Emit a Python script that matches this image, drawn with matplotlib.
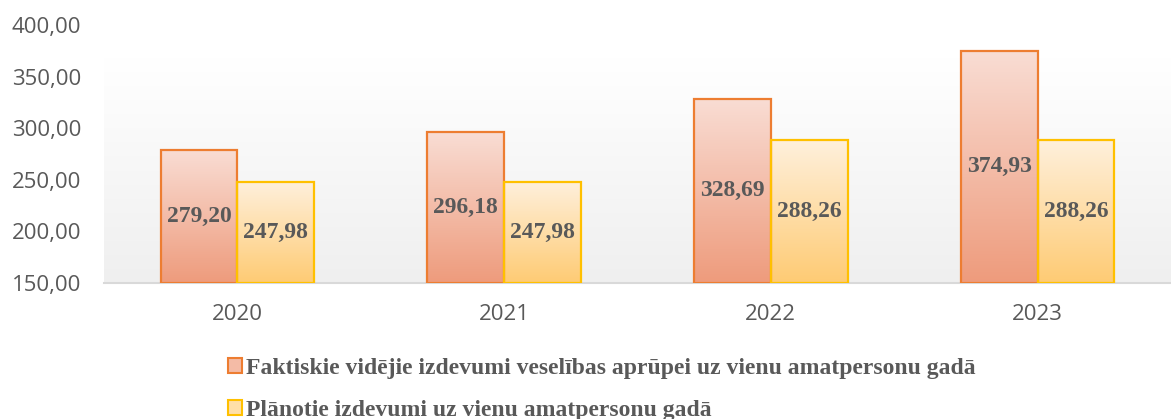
import numpy as np
import matplotlib
matplotlib.use('Agg')
from matplotlib import pyplot as plt
from matplotlib.patches import Patch
from matplotlib.colors import LinearSegmentedColormap

years = ['2020', '2021', '2022', '2023']
faktiskie = [279.20, 296.18, 328.69, 374.93]
planotie = [247.98, 247.98, 288.26, 288.26]
labels = ['Faktiskie vidējie izdevumi veselības aprūpei uz vienu amatpersonu gadā',
          'Plānotie izdevumi uz vienu amatpersonu gadā']

def fmt(v):
    return '{:.2f}'.format(v).replace('.', ',')

def gradBar(ax, x0, w, y0, y1, ctop, cbot, edge):
    cm = LinearSegmentedColormap.from_list('g', [cbot, ctop])
    grad = np.linspace(0, 1, 256).reshape(-1, 1)
    ax.imshow(grad, cmap=cm, origin='lower', aspect='auto',
              extent=(x0, x0 + w, y0, y1), zorder=2, interpolation='bicubic')
    ax.add_patch(plt.Rectangle((x0, y0), w, y1 - y0, fill=False,
                               edgecolor=edge, lw=1.6, zorder=3))

fig = plt.figure(figsize=(11.71, 4.19), dpi=100)
ax = fig.add_axes([104/1171, 136/419, 1 - 104/1171, 258/419])

# background gradient
bg = LinearSegmentedColormap.from_list('bg', ['#efefef', '#ffffff'])
ax.imshow(np.linspace(0, 1, 256).reshape(-1, 1), cmap=bg, origin='lower', aspect='auto',
          extent=(0, 1, 0, 0.87), transform=ax.transAxes, zorder=0)

x = np.arange(len(years))
w = 0.288
ymin = 150
for i in range(len(years)):
    gradBar(ax, x[i] - w, w, ymin, faktiskie[i], '#f9ddd4', '#ee9b7c', '#ed7d31')
    gradBar(ax, x[i], w, ymin, planotie[i], '#fff0dc', '#fecb74', '#ffc000')
    ax.text(x[i] - w/2, (ymin + faktiskie[i]) / 2, fmt(faktiskie[i]), ha='center', va='center',
            fontsize=17, fontweight='bold', family='Liberation Serif', color='#595959', zorder=4)
    ax.text(x[i] + w/2, (ymin + planotie[i]) / 2, fmt(planotie[i]), ha='center', va='center',
            fontsize=17, fontweight='bold', family='Liberation Serif', color='#595959', zorder=4)

ax.set_xlim(-0.5, len(years) - 0.5)
ax.set_ylim(150, 400)
ax.set_yticks(np.arange(150, 401, 50))
ax.set_yticklabels([fmt(v) for v in np.arange(150, 401, 50)])
ax.set_xticks(x)
ax.set_xticklabels(years)
for s in ['top', 'right', 'left']:
    ax.spines[s].set_visible(False)
ax.spines['bottom'].set_color('#d9d9d9')
ax.spines['bottom'].set_linewidth(1.5)
ax.tick_params(axis='both', length=0, labelsize=16, labelcolor='#595959')
ax.tick_params(axis='y', pad=16.5)
ax.tick_params(axis='x', pad=15)
for t in ax.get_xticklabels() + ax.get_yticklabels():
    t.set_family('Open Sans')

handles = [Patch(facecolor='#f4bba6', edgecolor='#ed7d31', lw=1.5),
           Patch(facecolor='#ffdfa8', edgecolor='#ffc000', lw=1.5)]
fig.legend(handles, labels, loc='upper left', bbox_to_anchor=(207/1171, 1 - 337/419),
           frameon=False, ncol=1, handlelength=0.6, handleheight=0.6, handletextpad=0.15,
           labelspacing=0.86, prop={'family': 'Liberation Serif', 'weight': 'bold', 'size': 17},
           labelcolor='#595959')

plt.savefig('out.png', dpi=100)
